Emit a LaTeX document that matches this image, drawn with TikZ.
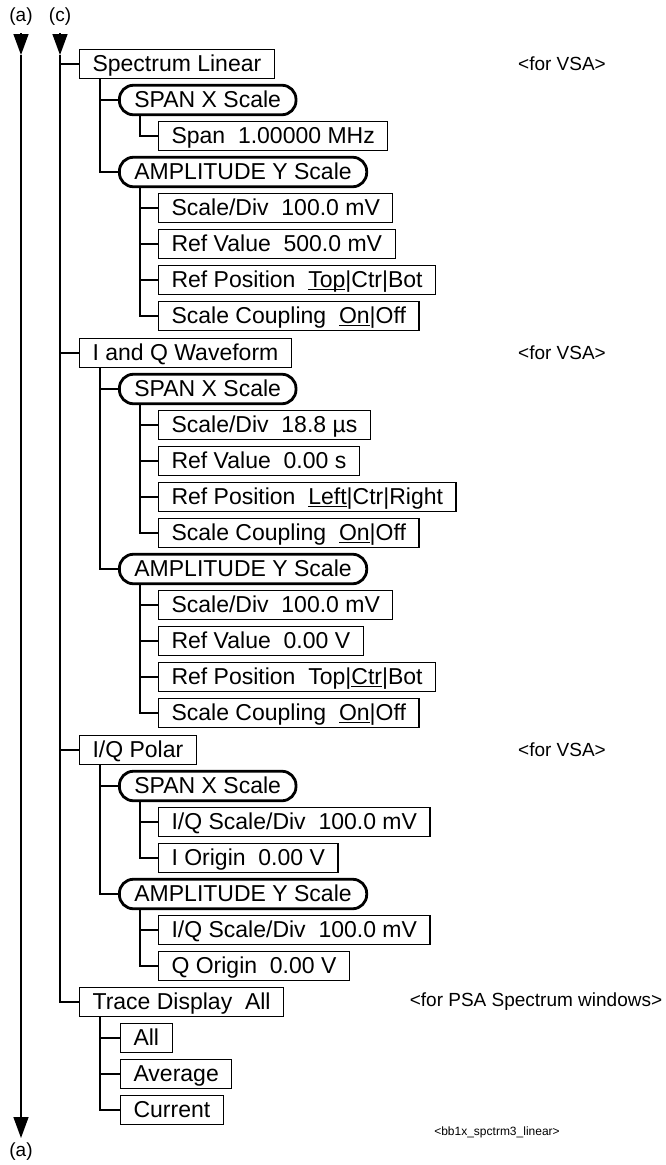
\documentclass[tikz,border=0pt]{standalone}
\usepackage{fontspec}
\setmainfont{Liberation Sans}
\usetikzlibrary{arrows.meta}

\newcommand{\boxfont}{\fontsize{23}{27}\selectfont}
\newcommand{\notefont}{\fontsize{19}{22}\selectfont}
% underlined default choice
\newcommand{\pick}[1]{\setbox0\hbox{#1}\rlap{\rule[-2.6pt]{\wd0}{1.3pt}}\box0}

\tikzset{
  menubox/.style={draw, line width=1.1pt, anchor=west, minimum height=29.5pt,
    text height=18pt, text depth=3pt,
    inner xsep=13pt, inner ysep=0pt, font=\boxfont},
  keypill/.style={menubox, line width=2.8pt, rounded corners=14pt, inner xsep=15pt},
  note/.style={font=\notefont},
  tag/.style={font=\fontsize{19}{22}\selectfont},
  branch/.style={line width=1.2pt},
  flow/.style={line width=1.4pt},
  flowtip/.style={flow, -{Triangle[width=15pt,length=21pt]}}
}

\begin{document}
\begin{tikzpicture}[x=1pt, y=-1pt]
    \useasboundingbox (0,0) rectangle (665,1165);

    % Off-page connector labels
    \node[tag] (atop) at (21,17) {(a)};
    \node[tag] (ctop) at (60,17) {(c)};
    \node[tag] (abot) at (21,1152) {(a)};

    % Spectrum Linear
    \node[menubox] (sl) at (79,64) {Spectrum Linear};
    \node[keypill] (slspan) at (118,100) {SPAN X Scale};
    \node[menubox] (slspanval) at (158,136) {Span\ \ 1.00000 MHz};
    \node[keypill] (slamp) at (118,172) {AMPLITUDE Y Scale};
    \node[menubox] (slsdiv) at (158,208) {Scale/Div\ \ 100.0 mV};
    \node[menubox] (slref) at (158,244) {Ref Value\ \ 500.0 mV};
    \node[menubox] (slpos) at (158,280) {Ref Position\ \ \pick{Top}|Ctr|Bot};
    \node[menubox] (slcpl) at (158,316) {Scale Coupling\ \ \pick{On}|Off};

    % I and Q Waveform
    \node[menubox] (iq) at (79,353) {I and Q Waveform};
    \node[keypill] (iqspan) at (118,389) {SPAN X Scale};
    \node[menubox] (iqsdiv) at (158,425) {Scale/Div\ \ 18.8 µs};
    \node[menubox] (iqref) at (158,461) {Ref Value\ \ 0.00 s};
    \node[menubox] (iqpos) at (158,497) {Ref Position\ \ \pick{Left}|Ctr|Right};
    \node[menubox] (iqcpl) at (158,533) {Scale Coupling\ \ \pick{On}|Off};
    \node[keypill] (iqamp) at (118,569) {AMPLITUDE Y Scale};
    \node[menubox] (iqasdiv) at (158,605) {Scale/Div\ \ 100.0 mV};
    \node[menubox] (iqaref) at (158,641) {Ref Value\ \ 0.00 V};
    \node[menubox] (iqapos) at (158,677) {Ref Position\ \ Top|\pick{Ctr}|Bot};
    \node[menubox] (iqacpl) at (158,713) {Scale Coupling\ \ \pick{On}|Off};

    % I/Q Polar
    \node[menubox] (pol) at (79,750) {I/Q Polar};
    \node[keypill] (polspan) at (118,786) {SPAN X Scale};
    \node[menubox] (poliscale) at (158,822) {I/Q Scale/Div\ \ 100.0 mV};
    \node[menubox] (poliorg) at (158,858) {I Origin\ \ 0.00 V};
    \node[keypill] (polamp) at (118,894) {AMPLITUDE Y Scale};
    \node[menubox] (polqscale) at (158,930) {I/Q Scale/Div\ \ 100.0 mV};
    \node[menubox] (polqorg) at (158,966) {Q Origin\ \ 0.00 V};

    % Trace Display
    \node[menubox] (td) at (79,1002) {Trace Display\ \ All};
    \node[menubox] (tdall) at (120,1038) {All};
    \node[menubox] (tdavg) at (120,1074) {Average};
    \node[menubox] (tdcur) at (120,1110) {Current};

    % Notes on the right
    \node[note] (vsa1) at (562,64) {<for VSA>};
    \node[note] (vsa2) at (562,353) {<for VSA>};
    \node[note] (vsa3) at (562,750) {<for VSA>};
    \node[note] (psa) at (536,1002) {<for PSA Spectrum windows>};
    \node[font=\fontsize{12}{14}\selectfont] (fname) at (497,1132) {<bb1x\_spctrm3\_linear>};

    % (a) pass-through line
    \coordinate (abase) at (21,33);
    \coordinate (atip) at (21,55);
    \coordinate (abotbase) at (21,1116);
    \coordinate (abottip) at (21,1138);
    \draw[flowtip] (abase) -- (atip);
    \draw[flow] (atip) -- (abotbase);
    \draw[flowtip] (abotbase) -- (abottip);

    % (c) trunk
    \coordinate (cbase) at (60,33);
    \coordinate (ctip) at (60,55);
    \draw[flowtip] (cbase) -- (ctip);
    \draw[branch] (ctip) |- (td.west);
    \foreach \k in {sl,iq,pol}
        \draw[branch] (\k.west -| ctip) -- (\k.west);

    % level 1 to keys
    \foreach \p/\c in {sl/slspan, sl/slamp, iq/iqspan, iq/iqamp, pol/polspan, pol/polamp,
                       td/tdall, td/tdavg, td/tdcur}
        \draw[branch] (\p.south west) ++(21,0) |- (\c.west);

    % keys to values
    \foreach \p/\c in {slspan/slspanval, slamp/slsdiv, slamp/slref, slamp/slpos, slamp/slcpl,
                       iqspan/iqsdiv, iqspan/iqref, iqspan/iqpos, iqspan/iqcpl,
                       iqamp/iqasdiv, iqamp/iqaref, iqamp/iqapos, iqamp/iqacpl,
                       polspan/poliscale, polspan/poliorg, polamp/polqscale, polamp/polqorg}
        \draw[branch] (\p.south west) ++(22,0) |- (\c.west);
\end{tikzpicture}
\end{document}
